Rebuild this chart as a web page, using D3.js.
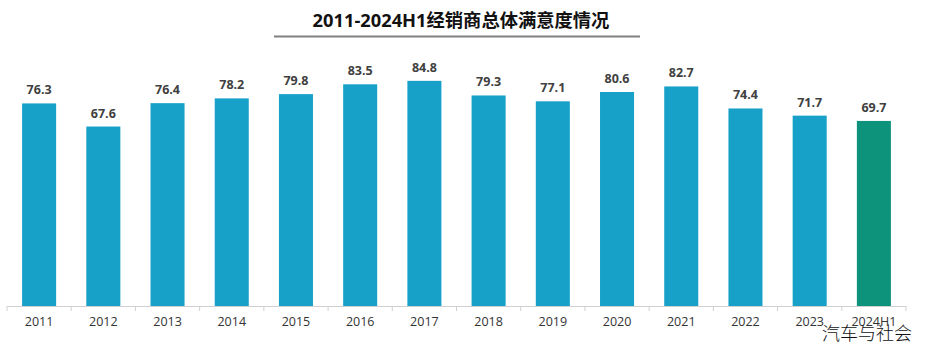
<!DOCTYPE html>
<html><head><meta charset="utf-8">
<script src="https://cdn.jsdelivr.net/npm/d3@7"></script>
<style>body{margin:0;background:#fff;}svg{display:block;}</style>
</head><body>
<svg id="c" width="925" height="349"></svg>
<script>
const categories = ["2011","2012","2013","2014","2015","2016","2017","2018","2019","2020","2021","2022","2023","2024H1"];
const values = [76.3,67.6,76.4,78.2,79.8,83.5,84.8,79.3,77.1,80.6,82.7,74.4,71.7,69.7];
const highlight = ["2024H1"];
const title = "2011-2024H1经销商总体满意度情况";
const watermark = "汽车与社会";

const svg = d3.select("#c");
const x0 = 7, x1 = 906, yBase = 306, yTop = 40.5;
const x = d3.scaleBand().domain(categories).range([x0, x1]).paddingInner(0.47).paddingOuter(0.235);
const y = d3.scaleLinear().domain([0, 100]).range([yBase, yTop]);
const font = "'Segoe UI','Open Sans','Noto Sans CJK SC',sans-serif";

// title
svg.append("text").attr("x", 461).attr("y", 27).attr("text-anchor", "middle")
  .attr("font-family", "'Open Sans','Noto Sans CJK SC',sans-serif").attr("font-weight", "bold")
  .attr("font-size", 18.3).attr("fill", "#111").text(title);
svg.append("line").attr("x1", 274).attr("x2", 640).attr("y1", 36.5).attr("y2", 36.5)
  .attr("stroke", "#808080").attr("stroke-width", 2);

// bars
svg.selectAll("rect.bar").data(categories).enter().append("rect").attr("class", "bar")
  .attr("x", d => x(d)).attr("width", x.bandwidth())
  .attr("y", (d, i) => y(values[i])).attr("height", (d, i) => yBase - y(values[i]))
  .attr("fill", d => highlight.includes(d) ? "#0d927c" : "#17a1c9");

// labels
svg.selectAll("text.val").data(categories).enter().append("text").attr("class", "val")
  .attr("x", d => x(d) + x.bandwidth() / 2).attr("y", (d, i) => y(values[i]) - 9)
  .attr("text-anchor", "middle").attr("font-family", font).attr("font-weight", "bold")
  .attr("font-size", 12.5).attr("fill", "#404040").text((d, i) => values[i].toFixed(1));

// axis
const axis = d3.axisBottom(x).tickSize(0).tickPadding(11);
const g = svg.append("g").attr("transform", `translate(0,${yBase})`).call(axis);
g.select(".domain").attr("stroke", "#d0d0d0").attr("d", `M${x0},0.5H${x1}`);
g.selectAll("text").attr("font-family", font).attr("font-size", 12.5).attr("fill", "#333");
const bounds = d3.range(categories.length + 1).map(i => x0 + i * (x1 - x0) / categories.length);
svg.selectAll("line.tk").data(bounds).enter().append("line").attr("class", "tk")
  .attr("x1", d => d).attr("x2", d => d).attr("y1", yBase).attr("y2", yBase + 5)
  .attr("stroke", "#d0d0d0");

// watermark
svg.append("text").attr("x", 912).attr("y", 340).attr("text-anchor", "end")
  .attr("font-family", "'Noto Sans CJK SC',sans-serif").attr("font-weight", 300).attr("font-size", 18).attr("fill", "#111")
  .text(watermark);
</script>
</body></html>
